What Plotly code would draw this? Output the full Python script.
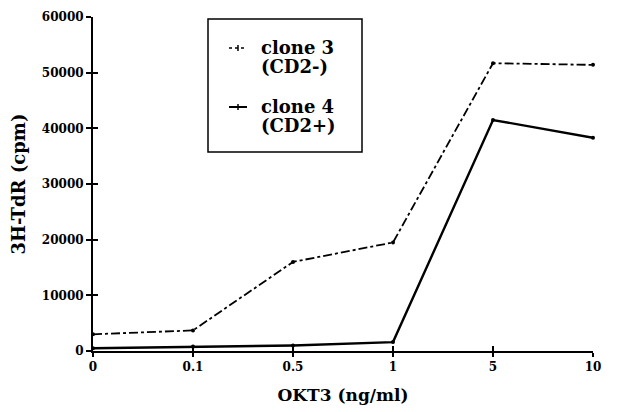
import plotly.graph_objects as go

categories = ["0", "0.1", "0.5", "1", "5", "10"]
clone3 = [3000, 3700, 16000, 19500, 51700, 51400]
clone4 = [500, 800, 1000, 1600, 41500, 38300]
y_ticks = [0, 10000, 20000, 30000, 40000, 50000, 60000]

xpos = list(range(len(categories)))
FONT = "DejaVu Serif"

fig = go.Figure()
fig.add_trace(go.Scatter(x=xpos, y=clone3, mode="lines+markers", name="clone 3 (CD2-)",
                         line=dict(color="black", width=1.8, dash="dashdot"),
                         marker=dict(symbol="circle", size=4, color="black"),
                         showlegend=False, cliponaxis=False))
fig.add_trace(go.Scatter(x=xpos, y=clone4, mode="lines+markers", name="clone 4 (CD2+)",
                         line=dict(color="black", width=2.4),
                         marker=dict(symbol="circle", size=4, color="black"),
                         showlegend=False, cliponaxis=False))

axis_common = dict(showgrid=False, zeroline=False, showline=True, linecolor="black",
                   tickcolor="black", tickwidth=1.5)

# body margin of the page shifts the figure ~8px; compensate
L, T, PW, PH = 85, 9, 500, 334

fig.update_layout(
    width=639, height=412,
    margin=dict(l=L, r=639 - L - PW, t=T, b=412 - T - PH, autoexpand=False),
    paper_bgcolor="white", plot_bgcolor="white",
    font=dict(family=FONT, color="black"),
    xaxis=dict(range=[0, 5], tickvals=xpos, ticktext=categories, ticks="outside", ticklen=4,
               linewidth=1.5, tickfont=dict(size=12, family=FONT, weight="bold", color="black"),
               title=dict(text="<b>OKT3 (ng/ml)</b>", font=dict(size=17, family=FONT, color="black"), standoff=16),
               **axis_common),
    yaxis=dict(range=[0, 60000], tickvals=y_ticks, ticktext=[str(v) for v in y_ticks],
               ticks="outside", ticklen=5, linewidth=2,
               tickfont=dict(size=12, family=FONT, weight="bold", color="black"),
               title=dict(text="<b>3H-TdR (cpm)</b>", font=dict(size=18, family=FONT, color="black"), standoff=17),
               **axis_common),
    xaxis2=dict(range=[0, 5], tickvals=xpos, ticks="inside", ticklen=5, showticklabels=False,
                overlaying="x", linewidth=1.5, **axis_common),
    yaxis2=dict(range=[0, 60000], tickvals=y_ticks, ticks="inside", ticklen=5, showticklabels=False,
                overlaying="y", linewidth=2, **axis_common),
)
fig.add_trace(go.Scatter(x=[0], y=[0], xaxis="x2", yaxis="y2", mode="markers",
                         marker=dict(opacity=0), showlegend=False, hoverinfo="skip"))


def px_x(px):
    return (px - 93) / PW


def px_y(py):
    return (351 - py) / PH


# legend box drawn manually
fig.add_shape(type="rect", xref="paper", yref="paper",
              x0=px_x(208), x1=px_x(362), y0=px_y(152), y1=px_y(19),
              line=dict(color="black", width=1.5), fillcolor="white", layer="above")

fig.add_shape(type="line", xref="paper", yref="paper", x0=px_x(229), x1=px_x(247),
              y0=px_y(48), y1=px_y(48), line=dict(color="black", width=1.4, dash="dot"), layer="above")
fig.add_shape(type="line", xref="paper", yref="paper", x0=px_x(229), x1=px_x(247),
              y0=px_y(107), y1=px_y(107), line=dict(color="black", width=2), layer="above")
for yy in (48, 107):
    fig.add_shape(type="line", xref="paper", yref="paper", x0=px_x(238), x1=px_x(238),
                  y0=px_y(yy - 3), y1=px_y(yy + 3), line=dict(color="black", width=1.5), layer="above")

legend_lines = [("clone 3", 47), ("(CD2-)", 66), ("clone 4", 106), ("(CD2+)", 125)]
for txt, yy in legend_lines:
    fig.add_annotation(xref="paper", yref="paper", x=px_x(259), y=px_y(yy), xanchor="left", yanchor="middle",
                       text="<b>" + txt + "</b>", showarrow=False, align="left",
                       font=dict(size=18, family=FONT, color="black"))

fig.write_html("out.html")
